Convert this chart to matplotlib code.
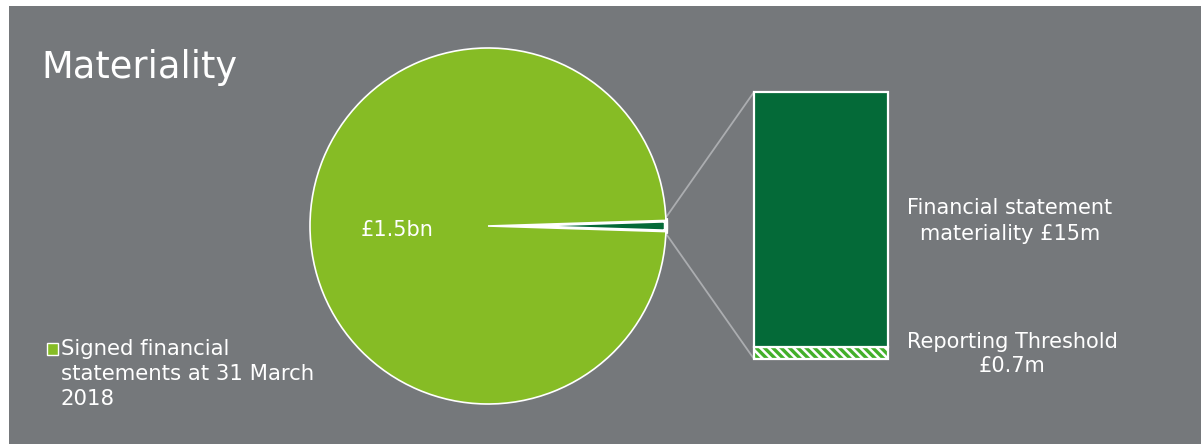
import matplotlib
matplotlib.use("Agg")
import matplotlib.pyplot as plt
from matplotlib.patches import Rectangle, ConnectionPatch
import numpy as np

# values in £m
pie_labels = ["Financial statement materiality", "Signed financial statements"]
pie_values = [15, 1485]
bar_parts = ["Reporting Threshold", "Financial statement materiality"]
bar_values = [0.7, 15 - 0.7]

light_green = "#86BC25"
dark_green = "#046A38"
hatch_green = "#43B02A"
panel_grey = "#75787B"
line_grey = "#ABADB0"

plt.rcParams["font.family"] = ["DejaVu Sans"]
plt.rcParams["hatch.linewidth"] = 2.4

W, H = 1201, 444
fig = plt.figure(figsize=(W / 100, H / 100), dpi=100, facecolor="white")

def fx(px):
    return px / W

def fy(py):
    return (H - py) / H

# grey panel
fig.add_artist(Rectangle((fx(9), 0), 1 - fx(9), fy(6), transform=fig.transFigure,
                         facecolor=panel_grey, edgecolor="none", zorder=0))

# pie
cx, cy, r = 488, 226, 178
ax_pie = fig.add_axes([fx(cx - r), fy(cy + r), 2 * r / W, 2 * r / H])
small_angle = pie_values[0] / sum(pie_values) * 360
wedges, _ = ax_pie.pie(pie_values, colors=[dark_green, light_green], radius=1,
                       startangle=-small_angle / 2, counterclock=True,
                       wedgeprops=dict(edgecolor="white"))
ax_pie.set_xlim(-1, 1)
ax_pie.set_ylim(-1, 1)
ax_pie.axis("off")
wedges[0].set_linewidth(3.2)
wedges[1].set_linewidth(1.2)
for w in wedges:
    w.set_clip_on(False)
ax_pie.text(-0.51, -0.02, "£1.5bn", color="white", fontsize=15,
            ha="center", va="center")

# bar
bx0, bx1, by0, by1 = 754, 888, 92, 359
ax_bar = fig.add_axes([fx(bx0), fy(by1), (bx1 - bx0) / W, (by1 - by0) / H])
ax_bar.set_xlim(-0.5, 0.5)
ax_bar.set_ylim(0, sum(bar_values))
ax_bar.axis("off")
ax_bar.bar(0, bar_values[0], width=1, color="white", edgecolor=hatch_green,
           linewidth=0, hatch="\\\\\\\\", clip_on=False)
ax_bar.bar(0, bar_values[0], width=1, color="none", edgecolor="white",
           linewidth=1.6, clip_on=False)
ax_bar.bar(0, bar_values[1], width=1, bottom=bar_values[0], color=dark_green,
           edgecolor="white", linewidth=1.6, clip_on=False)

# connector lines from the small wedge to the bar
t_top = np.radians(wedges[0].theta2 + 0.9)
t_bot = np.radians(wedges[0].theta1 - 0.6)
for t, yb in [(t_top, sum(bar_values)), (t_bot, 0)]:
    con = ConnectionPatch(xyA=(np.cos(t), np.sin(t)), coordsA=ax_pie.transData,
                          xyB=(-0.5, yb), coordsB=ax_bar.transData,
                          color=line_grey, linewidth=1.3, zorder=0)
    fig.add_artist(con)

# texts
fig.text(fx(41), fy(78), "Materiality", color="white", fontsize=26.5,
         ha="left", va="baseline")
fig.text(fx(1010), fy(221), "Financial statement\nmateriality £15m", color="white",
         fontsize=15, ha="center", va="center", multialignment="center",
         linespacing=1.35)
fig.text(fx(1012), fy(354), "Reporting Threshold\n£0.7m", color="white",
         fontsize=15, ha="center", va="center", multialignment="center",
         linespacing=1.25)

# legend
fig.add_artist(Rectangle((fx(47), fy(355)), 11 / W, 12 / H, transform=fig.transFigure,
                         facecolor=light_green, edgecolor="white", linewidth=1))
fig.text(fx(61), fy(339), "Signed financial\nstatements at 31 March\n2018",
         color="white", fontsize=15.3, ha="left", va="top", linespacing=1.32)

fig.savefig("out.png", dpi=100, facecolor=fig.get_facecolor())
